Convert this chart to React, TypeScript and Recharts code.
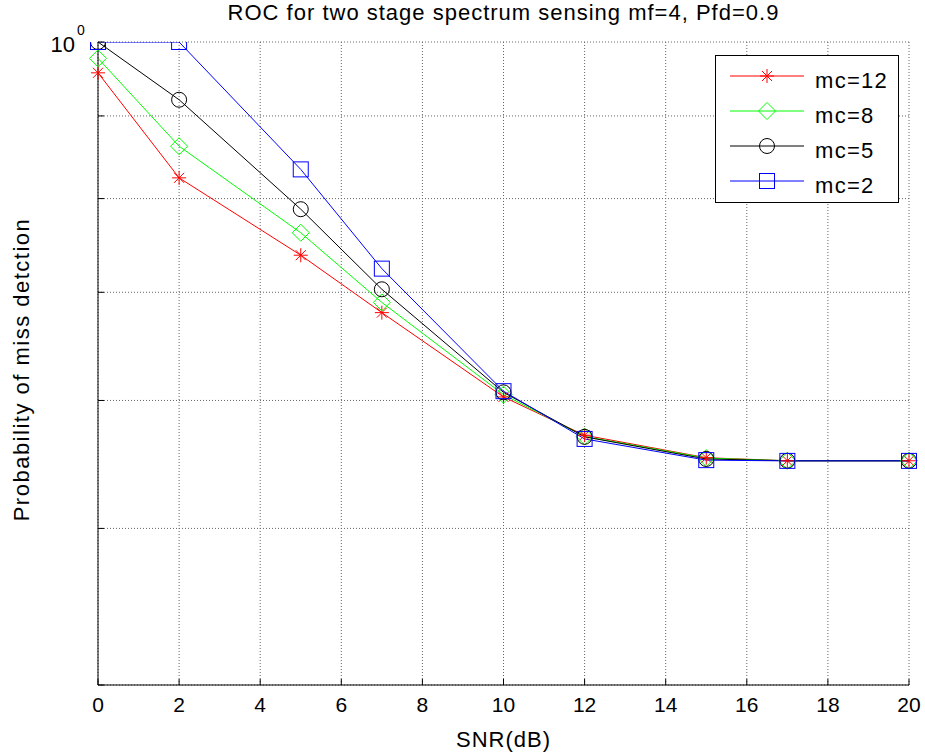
import React from 'react';
import { LineChart, Line, XAxis, YAxis, CartesianGrid, Legend } from 'recharts';

const snr = [0, 2, 5, 7, 10, 12, 15, 17, 20];
const mc12 = [0.957, 0.824, 0.738, 0.68, 0.603, 0.571, 0.553, 0.5506, 0.5506];
const mc8 = [0.977, 0.862, 0.762, 0.69, 0.605, 0.57, 0.5527, 0.5506, 0.5506];
const mc5 = [1.0, 0.921, 0.788, 0.703, 0.607, 0.5697, 0.552, 0.5506, 0.5506];
const mc2 = [1.0, 1.0, 0.834, 0.724, 0.608, 0.568, 0.5511, 0.5505, 0.5505];

const xTicks = [0, 2, 4, 6, 8, 10, 12, 14, 16, 18, 20];
const yTicks = [0.4, 0.5, 0.6, 0.7, 0.8, 0.9, 1];

const seriesKeys = ['mc12', 'mc8', 'mc5', 'mc2'];
const seriesNames = ['mc=12', 'mc=8', 'mc=5', 'mc=2'];
const seriesColors = ['#ff0000', '#00ff00', '#000000', '#0000ff'];
const seriesMarkers = ['star', 'diamond', 'circle', 'square'];

const titleText = 'ROC for two stage spectrum sensing mf=4, Pfd=0.9';
const xLabelText = 'SNR(dB)';
const yLabelText = 'Probability of miss detction';

const data = snr.map((x, i) => ({ x, mc12: mc12[i], mc8: mc8[i], mc5: mc5[i], mc2: mc2[i] }));

const FONT = '"Liberation Sans", Arial, Helvetica, sans-serif';
const FS = 21;
const LFS = 22;

function Marker({ type, cx, cy, color }: { type: string; cx: number; cy: number; color: string }) {
  if (cx == null || cy == null || isNaN(cx) || isNaN(cy)) return null;
  if (type === 'square') {
    return <rect x={cx - 7.5} y={cy - 7.5} width={15} height={15} fill="none" stroke={color} strokeWidth={1} />;
  }
  if (type === 'circle') {
    return <circle cx={cx} cy={cy} r={7.5} fill="none" stroke={color} strokeWidth={1} />;
  }
  if (type === 'diamond') {
    const r = 8.5;
    return (
      <polygon
        points={`${cx},${cy - r} ${cx + r},${cy} ${cx},${cy + r} ${cx - r},${cy}`}
        fill="none"
        stroke={color}
        strokeWidth={1}
      />
    );
  }
  const r = 7;
  const d = r * 0.72;
  return (
    <g stroke={color} strokeWidth={1}>
      <line x1={cx - r} y1={cy} x2={cx + r} y2={cy} />
      <line x1={cx} y1={cy - r} x2={cx} y2={cy + r} />
      <line x1={cx - d} y1={cy - d} x2={cx + d} y2={cy + d} />
      <line x1={cx - d} y1={cy + d} x2={cx + d} y2={cy - d} />
    </g>
  );
}

const BottomTick = (props: any) => {
  const { x, y, payload } = props;
  return (
    <g>
      <line x1={x} y1={y} x2={x} y2={y - 6} stroke="#000" />
      <text x={x} y={y + 27} textAnchor="middle" fontSize={FS} fontFamily={FONT} fill="#000">
        {payload.value}
      </text>
    </g>
  );
};

const TopTick = (props: any) => {
  const { x, y } = props;
  return <line x1={x} y1={y} x2={x} y2={y + 6} stroke="#000" />;
};

const LeftTick = (props: any) => {
  const { x, y, payload } = props;
  return (
    <g>
      <line x1={x} y1={y} x2={x + 6} y2={y} stroke="#000" />
      {payload.value === 1 ? (
        <g fontFamily={FONT} fill="#000">
          <text x={x - 23} y={y + 10} textAnchor="end" fontSize={LFS}>
            10
          </text>
          <text x={x - 21} y={y - 7} textAnchor="start" fontSize={14}>
            0
          </text>
        </g>
      ) : null}
    </g>
  );
};

const RightTick = (props: any) => {
  const { x, y } = props;
  return <line x1={x} y1={y} x2={x - 6} y2={y} stroke="#000" />;
};

const LegendBox = () => {
  const w = 184;
  const h = 148;
  return (
    <svg width={w} height={h} style={{ display: 'block' }}>
      <rect x={0.5} y={0.5} width={w - 1} height={h - 1} fill="#fff" stroke="#000" strokeWidth={1} />
      {seriesNames.map((name, i) => {
        const cy = 21 + i * 35;
        return (
          <g key={name}>
            <line x1={15} y1={cy} x2={89} y2={cy} stroke={seriesColors[i]} strokeWidth={1} />
            <Marker type={seriesMarkers[i]} cx={52} cy={cy} color={seriesColors[i]} />
            <text x={100} y={cy + 12} fontSize={LFS} fontFamily={FONT} fill="#000" letterSpacing={1.3}>
              {name}
            </text>
          </g>
        );
      })}
    </svg>
  );
};

export default function App() {
  return (
    <div style={{ position: 'absolute', left: 0, top: 0, width: 925, height: 753, background: '#fff' }}>
      <LineChart
        width={925}
        height={753}
        data={data}
        margin={{ top: 42, right: 16, bottom: 0, left: 0 }}
        style={{ fontFamily: FONT }}
      >
        <CartesianGrid stroke="#666" strokeDasharray="1 2" />
        <XAxis
          dataKey="x"
          type="number"
          domain={[0, 20]}
          ticks={xTicks}
          height={68}
          tickSize={0}
          tickMargin={0}
          tickLine={false}
          axisLine={{ stroke: '#000' }}
          tick={BottomTick}
          interval={0}
          label={(p: any) => {
            const vb = p.viewBox || {};
            const cx = vb.x + vb.width / 2;
            return (
              <g fontFamily={FONT} fill="#000" fontSize={LFS}>
                <text x={cx} y={747} textAnchor="middle" letterSpacing={1}>
                  {xLabelText}
                </text>
                <text x={cx} y={19.5} textAnchor="middle" letterSpacing={1}>
                  {titleText}
                </text>
              </g>
            );
          }}
        />
        <XAxis
          xAxisId="top"
          orientation="top"
          dataKey="x"
          type="number"
          domain={[0, 20]}
          ticks={xTicks}
          height={0}
          tickSize={0}
          tickMargin={0}
          tickLine={false}
          axisLine={{ stroke: '#000' }}
          tick={TopTick}
          interval={0}
        />
        <YAxis
          scale="log"
          type="number"
          domain={[0.4, 1]}
          ticks={yTicks}
          allowDataOverflow
          width={98}
          tickSize={0}
          tickMargin={0}
          tickLine={false}
          axisLine={{ stroke: '#000' }}
          tick={LeftTick}
          interval={0}
          label={(p: any) => {
            const vb = p.viewBox || {};
            const cy = vb.y + vb.height / 2 + 6;
            return (
              <text
                x={29}
                y={cy}
                transform={`rotate(-90, 29, ${cy})`}
                textAnchor="middle"
                fontSize={LFS}
                fontFamily={FONT}
                fill="#000"
                letterSpacing={1.5}
              >
                {yLabelText}
              </text>
            );
          }}
        />
        <YAxis
          yAxisId="right"
          orientation="right"
          scale="log"
          type="number"
          domain={[0.4, 1]}
          ticks={yTicks}
          allowDataOverflow
          width={0}
          tickSize={0}
          tickMargin={0}
          tickLine={false}
          axisLine={{ stroke: '#000' }}
          tick={RightTick}
          interval={0}
        />
        <Legend
          layout="horizontal"
          verticalAlign="middle"
          align="center"
          wrapperStyle={{ left: 715, top: 55, width: 184, height: 148 }}
          content={() => <LegendBox />}
        />
        {seriesKeys.map((k, i) => (
          <Line
            key={k}
            dataKey={k}
            name={seriesNames[i]}
            type="linear"
            stroke={seriesColors[i]}
            strokeWidth={1}
            isAnimationActive={false}
            dot={(p: any) => (
              <Marker
                key={`${k}-${p.index}`}
                type={seriesMarkers[i]}
                cx={p.cx}
                cy={p.cy}
                color={seriesColors[i]}
              />
            )}
            activeDot={false}
          />
        ))}
      </LineChart>
    </div>
  );
}
